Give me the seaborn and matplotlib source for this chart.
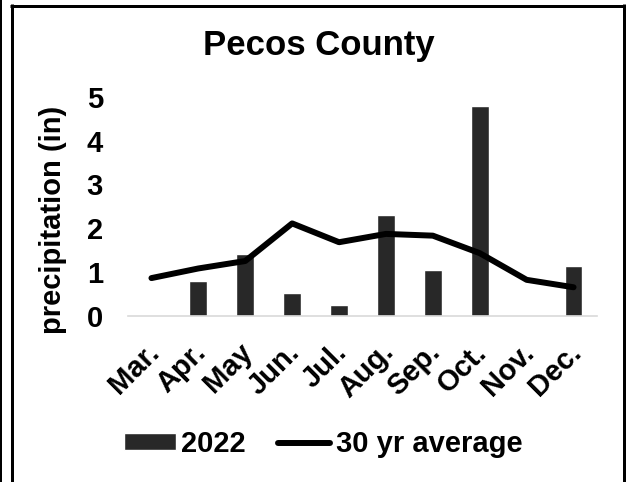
import numpy as np
import pandas as pd
import matplotlib
matplotlib.use("Agg")
import matplotlib.pyplot as plt
import matplotlib.transforms as mtransforms
from matplotlib.lines import Line2D
import seaborn as sns

# Monthly precipitation, inches
months = ["Mar.", "Apr.", "May", "Jun.", "Jul.", "Aug.", "Sep.", "Oct.", "Nov.", "Dec."]
precip_2022 = [0.0, 0.79, 1.40, 0.53, 0.24, 2.30, 1.05, 4.79, 0.0, 1.14]
avg_30yr = [0.86, 1.08, 1.25, 2.11, 1.68, 1.87, 1.83, 1.43, 0.82, 0.65]
yticks = [0, 1, 2, 3, 4, 5]

sns.set_theme(style="white")
plt.rcParams["font.family"] = ["Liberation Sans", "DejaVu Sans"]
plt.rcParams["font.weight"] = "bold"
plt.rcParams["text.color"] = "black"
plt.rcParams["xtick.color"] = "black"
plt.rcParams["ytick.color"] = "black"
plt.rcParams["axes.labelcolor"] = "black"

df = pd.DataFrame({"month": months, "p2022": precip_2022, "avg": avg_30yr})

W, H = 626, 482
fig = plt.figure(figsize=(W / 100, H / 100), dpi=100)
ax = fig.add_axes([128 / W, 1 - 315.7 / H, (597 - 128) / W, (315.7 - 97) / H])

sns.barplot(data=df, x="month", y="p2022", color="#282828", width=0.38,
            saturation=1, ax=ax, label="2022")
sns.lineplot(x=np.arange(len(months)), y=df["avg"], color="black",
             linewidth=4.3, ax=ax, label="30 yr average",
             solid_capstyle="round", solid_joinstyle="round")

ax.set_xlim(-0.5, len(months) - 0.5)
ax.set_ylim(0, 5)
ax.set_yticks(yticks)
ax.set_yticklabels([str(t) for t in yticks], fontsize=21, fontweight="bold")
ax.set_xticks(np.arange(len(months)))
ax.set_xticklabels(months, fontsize=21, fontweight="bold", rotation=45,
                   ha="right", va="center", rotation_mode="anchor")
ax.tick_params(axis="y", length=0, pad=18, colors="black")
ax.tick_params(axis="x", length=0, pad=23, colors="black")
# nudge rotated month labels slightly to the right
shift = mtransforms.ScaledTranslation(3 / 100, 0, fig.dpi_scale_trans)
for lbl in ax.get_xticklabels():
    lbl.set_transform(lbl.get_transform() + shift)

ax.set_xlabel("")
ax.set_ylabel("precipitation (in)", fontsize=21, fontweight="bold", color="black")
ax.yaxis.set_label_coords(-0.131, 0.44)

for side in ["left", "right", "top"]:
    ax.spines[side].set_visible(False)
ax.spines["bottom"].set_color("#d9d9d9")
ax.spines["bottom"].set_linewidth(1.2)
ax.grid(False)

fig.text(319 / W, 1 - 46 / H, "Pecos County", ha="center", va="center",
         fontsize=25, fontweight="bold", color="black")

ax.get_legend().remove()
handles, labels = ax.get_legend_handles_labels()
order = [labels.index("2022"), labels.index("30 yr average")]
fig.legend([handles[i] for i in order], [labels[i] for i in order],
           loc="center", bbox_to_anchor=(323 / W, 1 - 444 / H),
           ncol=2, frameon=False, prop={"size": 21, "weight": "bold"},
           labelcolor="black",
           handlelength=1.78, handleheight=0.52, handletextpad=0.2,
           columnspacing=1.1)

# Outer frame lines
def fline(xs, ys, lw):
    fig.add_artist(Line2D([x / W for x in xs], [1 - y / H for y in ys],
                          transform=fig.transFigure, color="black",
                          linewidth=lw, solid_capstyle="butt"))

fline([1, 1], [0, H], 1.44)
fline([11.5, 11.5], [4, H], 2.16)
fline([10, 624], [5.5, 5.5], 2.16)
fline([623.5, 623.5], [4, H], 2.16)

fig.savefig("out.png", dpi=100)
